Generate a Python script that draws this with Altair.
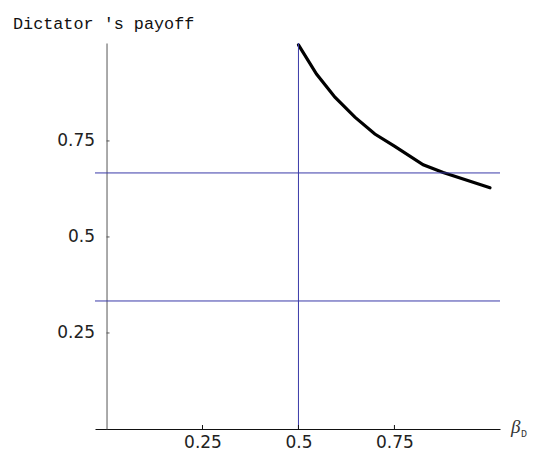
import altair as alt
import pandas as pd

# ---- data ----
curve_x = [0.5, 0.547, 0.595, 0.647, 0.699, 0.751, 0.825, 0.877, 0.999]
curve_y = [1.0, 0.924, 0.864, 0.812, 0.768, 0.736, 0.688, 0.668, 0.628]
h_lines = [1 / 3, 2 / 3]
v_lines = [0.5]
x_ticks = [0.25, 0.5, 0.75]
y_ticks = [0.25, 0.5, 0.75]
y_title = "Dictator 's payoff"
x_title_main = "β"
x_title_sub = "D"

X_DOMAIN = [-0.03, 1.025]
Y_DOMAIN = [0, 1.005]
W, H = 405, 386
X0PX = (0 - X_DOMAIN[0]) / (X_DOMAIN[1] - X_DOMAIN[0]) * W
TOP = 35
LEFT = 87

BLUE = "#3a3aa8"
LABEL_FONT = "DejaVu Sans"

xs = alt.Scale(domain=X_DOMAIN, nice=False, zero=False)
ys = alt.Scale(domain=Y_DOMAIN, nice=False, zero=False)

curve_df = pd.DataFrame({"x": curve_x, "y": curve_y})
h_df = pd.DataFrame({"y": h_lines})
v_df = pd.DataFrame({"x": v_lines})
xt_df = pd.DataFrame({"x": x_ticks, "y": [0.0] * len(x_ticks)})
yt_df = pd.DataFrame({"y": y_ticks, "x": [0.0] * len(y_ticks)})

x_axis = alt.Axis(values=x_ticks, format=".2~f", ticks=False, tickSize=0,
                  labelPadding=5, labelFont=LABEL_FONT, labelFontSize=17,
                  labelColor="#222", domainColor="#111", domainWidth=1,
                  grid=False, title=None)
y_axis = alt.Axis(values=y_ticks, format=".2~f", ticks=False, tickSize=0,
                  labelPadding=12, labelFont=LABEL_FONT, labelFontSize=17,
                  labelColor="#222", domainColor="#555", domainWidth=1,
                  grid=False, title=None, offset=-X0PX)


def X(field="x"):
    return alt.X(f"{field}:Q", scale=xs, axis=x_axis)


def Y(field="y"):
    return alt.Y(f"{field}:Q", scale=ys, axis=y_axis)


curve = alt.Chart(curve_df).mark_line(color="black", strokeWidth=3.2,
                                      strokeCap="round").encode(x=X(), y=Y())
hl = alt.Chart(h_df).mark_rule(color=BLUE, strokeWidth=1).encode(y=Y())
vl = alt.Chart(v_df).mark_rule(color=BLUE, strokeWidth=1).encode(x=X())

xt = alt.Chart(xt_df).mark_rule(color="#111", strokeWidth=1).encode(
    x=X(), y=Y(), y2=alt.value(H - 4))
yt = alt.Chart(yt_df).mark_rule(color="#555", strokeWidth=1).encode(
    y=Y(), x=X(), x2=alt.value(X0PX + 3))

title_txt = alt.Chart(pd.DataFrame({"t": [y_title]})).mark_text(
    font="Liberation Mono", fontSize=16.8, align="left", baseline="alphabetic",
    color="#111", x=13 - 8 - LEFT, y=29 - 8 - TOP).encode(text="t:N")
beta_txt = alt.Chart(pd.DataFrame({"t": [x_title_main]})).mark_text(
    font="Liberation Serif", fontStyle="italic", fontSize=19, align="left",
    baseline="alphabetic", color="#333", x=511 - 8 - LEFT, y=433 - 8 - TOP).encode(text="t:N")
sub_txt = alt.Chart(pd.DataFrame({"t": [x_title_sub]})).mark_text(
    font="Liberation Mono", fontSize=10, align="left", baseline="alphabetic",
    color="#333", x=521 - 8 - LEFT, y=437 - 8 - TOP).encode(text="t:N")

chart = alt.layer(curve, hl, vl, xt, yt, title_txt, beta_txt, sub_txt).properties(
    width=W, height=H,
    autosize=alt.AutoSizeParams(type="none"),
    padding={"left": LEFT, "top": TOP, "right": 522 - LEFT - W,
             "bottom": 442 - TOP - H},
    background="white",
).configure_view(stroke=None)

chart.save("out.html", embed_options={"renderer": "svg", "actions": False})
